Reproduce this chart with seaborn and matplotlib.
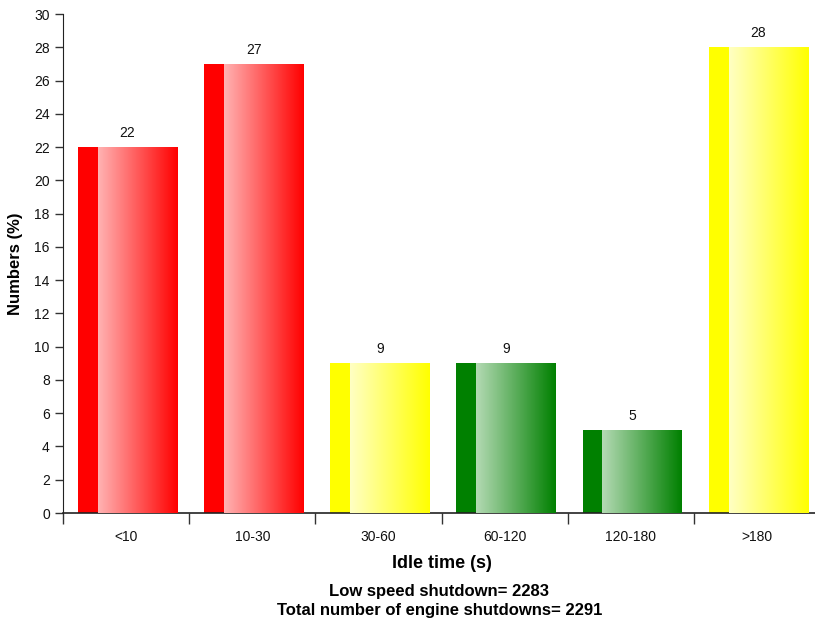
import numpy as np
import matplotlib
matplotlib.use("Agg")
import matplotlib.pyplot as plt
import matplotlib.colors as mcolors
import seaborn as sns

categories = ["<10", "10-30", "30-60", "60-120", "120-180", ">180"]
values = [22, 27, 9, 9, 5, 28]
bar_colors = ["#ff0000", "#ff0000", "#ffff00", "#008000", "#008000", "#ffff00"]
light_colors = {"#ff0000": "#ffb3b3", "#ffff00": "#ffffc4", "#008000": "#b4dab4"}
footer = ["Low speed shutdown= 2283", "Total number of engine shutdowns= 2291"]

sns.set_style("ticks")
plt.rcParams["font.family"] = ["Liberation Sans", "DejaVu Sans"]
plt.rcParams["text.color"] = "#000000"
plt.rcParams["axes.labelcolor"] = "#000000"

fig = plt.figure(figsize=(8.15, 6.29), dpi=100)
ax = fig.add_axes([0.0773, 0.1844, 0.929, 0.7933])

sns.barplot(x=categories, y=values, hue=categories, palette=bar_colors,
            legend=False, width=0.79, saturation=1, ax=ax, zorder=2)

# gradient overlay: solid strip on the left, then light -> full colour
for patch, col in zip(ax.patches, bar_colors):
    patch.set_x(patch.get_x() + 0.012)
    x0, w, h = patch.get_x(), patch.get_width(), patch.get_height()
    patch.set_linewidth(0)
    cmap = mcolors.LinearSegmentedColormap.from_list("g", [light_colors[col], col])
    grad = np.linspace(0, 1, 256).reshape(1, -1)
    im = ax.imshow(grad, cmap=cmap, aspect="auto", zorder=3,
                   extent=(x0 + 0.2 * w, x0 + w, 0, h), interpolation="bilinear")
    im.set_clip_path(patch)

for c in ax.containers:
    ax.bar_label(c, padding=5, fontsize=10, color="#111111")

ax.set_xlim(-0.5, 5.5)
ax.set_ylim(0, 30)
ax.set_yticks(range(0, 31, 2))
ax.set_xticks(range(len(categories)))
ax.set_xticklabels(categories)
ax.set_xticks(np.arange(-0.5, 6.0, 1.0), minor=True)
ax.tick_params(axis="x", which="major", length=0, pad=12, labelsize=10, labelcolor="#111111")
ax.tick_params(axis="x", which="minor", length=8, width=1, color="#333333")
ax.tick_params(axis="y", length=6, width=1, color="#333333", labelsize=10, labelcolor="#111111")
ax.grid(False)

sns.despine(ax=ax)
ax.spines["left"].set_color("#222222")
ax.spines["bottom"].set_color("#222222")
ax.spines["bottom"].set_linewidth(1.2)

ax.set_xlabel("Idle time (s)", fontsize=13, fontweight="bold", labelpad=8)
ax.set_ylabel("Numbers (%)", fontsize=12, fontweight="bold", labelpad=8)

fig.text(0.539, 0.0445, footer[0] + "\n" + footer[1], ha="center", va="center",
         fontsize=12, fontweight="bold", linespacing=1.3)

fig.savefig("out.png", dpi=100)
